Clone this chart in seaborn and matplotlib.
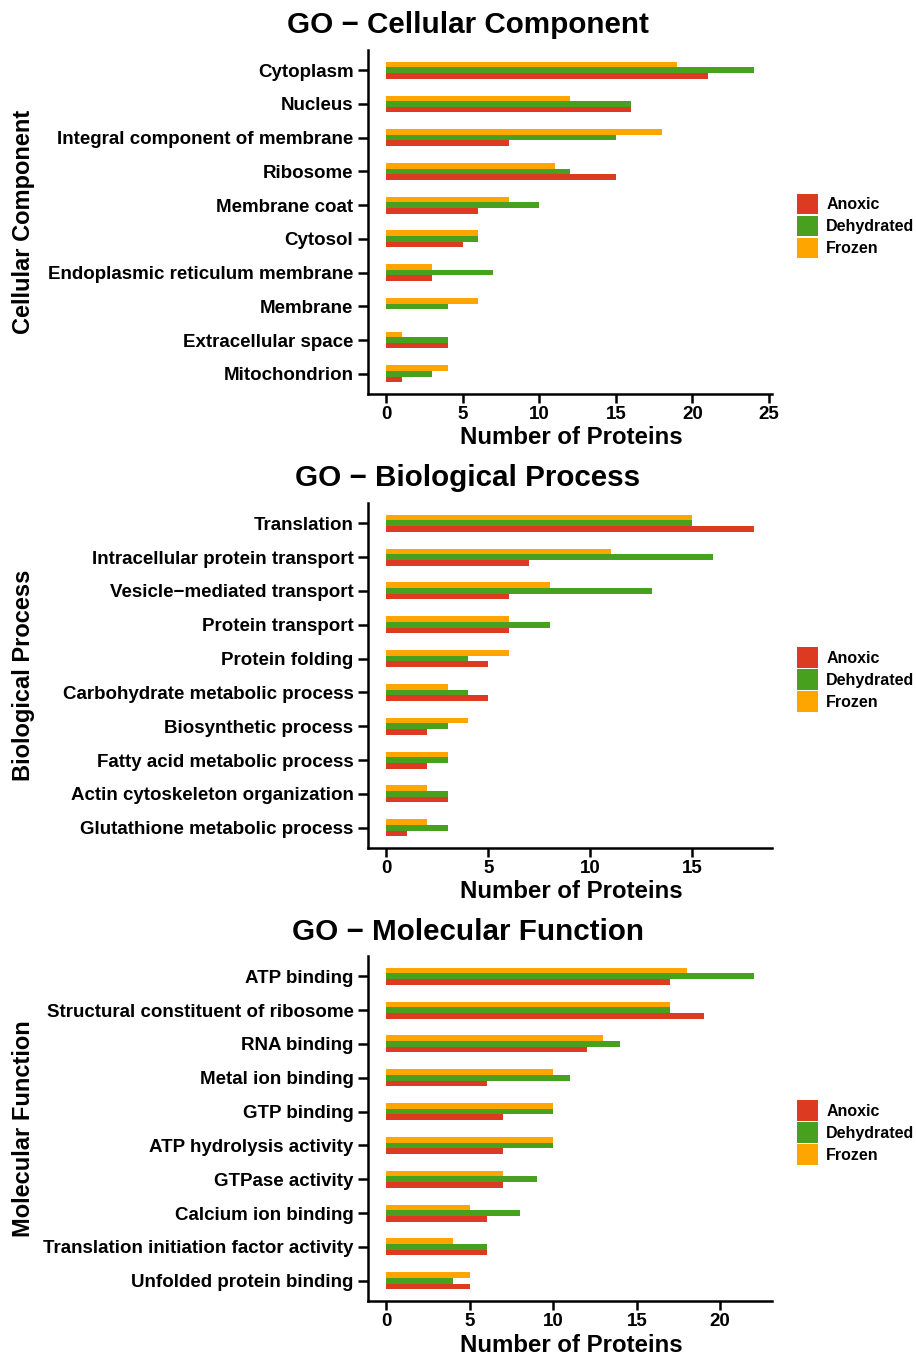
import matplotlib
matplotlib.use("Agg")
import matplotlib.pyplot as plt
from matplotlib.patches import Patch
import seaborn as sns
import pandas as pd

sns.set_theme(style="white")
plt.rcParams["font.family"] = ["Liberation Sans", "DejaVu Sans"]
plt.rcParams["font.weight"] = "bold"
plt.rcParams["text.color"] = "black"
plt.rcParams["axes.labelcolor"] = "black"
plt.rcParams["xtick.color"] = "black"
plt.rcParams["ytick.color"] = "black"

groups = ["Anoxic", "Dehydrated", "Frozen"]
colors = {"Anoxic": "#DC3B21", "Dehydrated": "#47A11E", "Frozen": "#FFA500"}

# Cellular Component
cc_terms = ["Cytoplasm", "Nucleus", "Integral component of membrane", "Ribosome",
            "Membrane coat", "Cytosol", "Endoplasmic reticulum membrane", "Membrane",
            "Extracellular space", "Mitochondrion"]
cc_anoxic = [21, 16, 8, 15, 6, 5, 3, 0, 4, 1]
cc_dehydrated = [24, 16, 15, 12, 10, 6, 7, 4, 4, 3]
cc_frozen = [19, 12, 18, 11, 8, 6, 3, 6, 1, 4]

# Biological Process
bp_terms = ["Translation", "Intracellular protein transport", "Vesicle\u2212mediated transport",
            "Protein transport", "Protein folding", "Carbohydrate metabolic process",
            "Biosynthetic process", "Fatty acid metabolic process",
            "Actin cytoskeleton organization", "Glutathione metabolic process"]
bp_anoxic = [18, 7, 6, 6, 5, 5, 2, 2, 3, 1]
bp_dehydrated = [15, 16, 13, 8, 4, 4, 3, 3, 3, 3]
bp_frozen = [15, 11, 8, 6, 6, 3, 4, 3, 2, 2]

# Molecular Function
mf_terms = ["ATP binding", "Structural constituent of ribosome", "RNA binding",
            "Metal ion binding", "GTP binding", "ATP hydrolysis activity", "GTPase activity",
            "Calcium ion binding", "Translation initiation factor activity",
            "Unfolded protein binding"]
mf_anoxic = [17, 19, 12, 6, 7, 7, 7, 6, 6, 5]
mf_dehydrated = [22, 17, 14, 11, 10, 10, 9, 8, 6, 4]
mf_frozen = [18, 17, 13, 10, 10, 10, 7, 5, 4, 5]

x_ticks = [[0, 5, 10, 15, 20, 25], [0, 5, 10, 15], [0, 5, 10, 15, 20]]

panels = [
    ("GO \u2212 Cellular Component", "Cellular Component", cc_terms,
     cc_anoxic, cc_dehydrated, cc_frozen, 50, 394, 25, 438),
    ("GO \u2212 Biological Process", "Biological Process", bp_terms,
     bp_anoxic, bp_dehydrated, bp_frozen, 503, 848, 478, 892),
    ("GO \u2212 Molecular Function", "Molecular Function", mf_terms,
     mf_anoxic, mf_dehydrated, mf_frozen, 956, 1301, 932, 1345),
]

W, H = 916, 1357
fig = plt.figure(figsize=(W / 100, H / 100), dpi=100)

for i, (title, ylab, terms, an, de, fr, top, bot, ty, xly) in enumerate(panels):
    ax = fig.add_axes([368 / W, 1 - bot / H, 404 / W, (bot - top) / H])
    df = pd.DataFrame({
        "term": terms * 3,
        "group": ["Anoxic"] * 10 + ["Dehydrated"] * 10 + ["Frozen"] * 10,
        "count": an + de + fr,
    })
    sns.barplot(data=df, y="term", x="count", hue="group", order=terms,
                hue_order=["Frozen", "Dehydrated", "Anoxic"], palette=colors,
                saturation=1, orient="h", width=0.5, gap=0, legend=False, ax=ax,
                edgecolor="none", linewidth=0)
    vmax = max(an + de + fr)
    ax.set_xlim(-0.05 * vmax, 1.05 * vmax)
    ax.set_ylim(len(terms) - 1 + 0.6, -0.6)
    ax.set_xticks(x_ticks[i])
    ax.set_xticklabels([str(t) for t in x_ticks[i]])
    for s in ["top", "right"]:
        ax.spines[s].set_visible(False)
    for s in ["left", "bottom"]:
        ax.spines[s].set_visible(True)
        ax.spines[s].set_color("black")
        ax.spines[s].set_linewidth(1.8)
    ax.tick_params(axis="y", which="major", length=7, width=1.8, color="black",
                   labelsize=13.5, labelcolor="black", pad=3.5, left=True)
    ax.tick_params(axis="x", which="major", length=6.5, width=1.8, color="black",
                   labelsize=13.5, labelcolor="black", pad=2, bottom=True)
    for lbl in ax.get_yticklabels() + ax.get_xticklabels():
        lbl.set_fontweight("bold")
    ax.set_ylabel("")
    ax.set_xlabel("")
    ax.set_facecolor("white")
    ax.grid(False)

    fig.text(468 / W, 1 - ty / H, title, ha="center", va="center",
             fontsize=21.3, fontweight="bold", color="black")
    fig.text(571 / W, 1 - xly / H, "Number of Proteins", ha="center", va="center",
             fontsize=17.3, fontweight="bold", color="black")
    fig.text(23.5 / W, 1 - (top + bot) / 2 / H, ylab, ha="center", va="center",
             rotation=90, fontsize=17, fontweight="bold", color="black")

    handles = [Patch(facecolor=colors[g], edgecolor="none", label=g) for g in groups]
    leg = fig.legend(handles=handles, loc="center left",
                     bbox_to_anchor=(794 / W, 1 - (top + bot + 8) / 2 / H),
                     frameon=False, handlelength=1.31, handleheight=1.6,
                     handletextpad=0.5, labelspacing=0.1, borderaxespad=0,
                     borderpad=0.2, prop={"weight": "bold", "size": 11.5})
    for t in leg.get_texts():
        t.set_color("black")

fig.savefig("out.png", dpi=100, facecolor="white")
